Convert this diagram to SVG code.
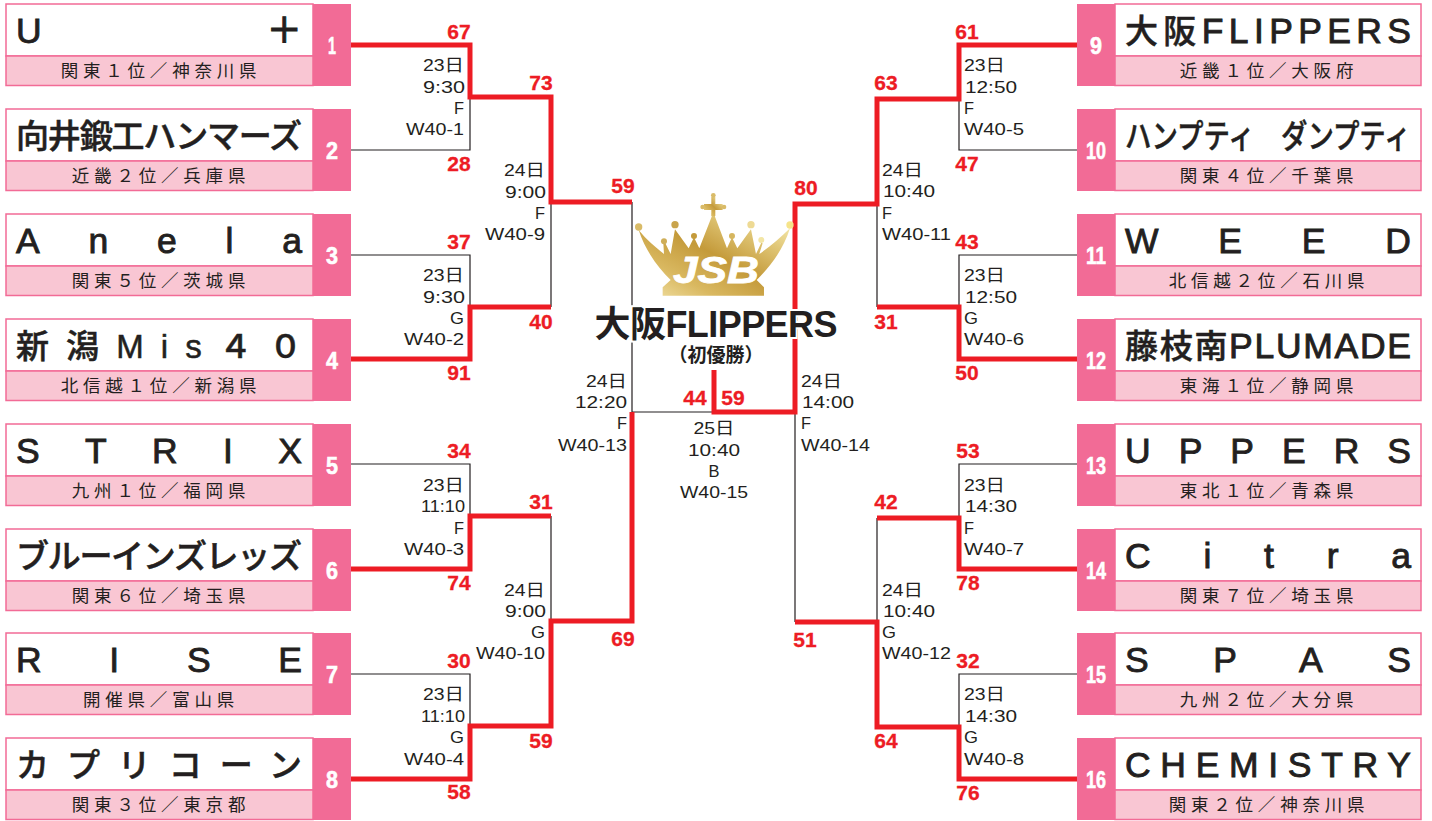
<svg xmlns="http://www.w3.org/2000/svg" width="1432" height="821" viewBox="0 0 1432 821">
<style>
text{font-family:"Liberation Sans","Noto Sans CJK JP",sans-serif}
.w{fill:#fff;stroke:#f26b96;stroke-width:1.5}
.p{fill:#f9c6d3;stroke:#f26b96;stroke-width:1.5}
.b{fill:#f26b96}
.nm{font-size:33px;fill:#231f20;stroke:#231f20;stroke-width:.5;font-weight:500}
.la{font-size:35.500px;stroke-width:.9}
.sb{font-size:17.500px;fill:#231f20;text-anchor:middle;letter-spacing:4.800px}
.no{font-size:24px;font-weight:700;fill:#fff;text-anchor:middle;stroke:#fff;stroke-width:.6}
.sc{font-size:21px;font-weight:700;fill:#ed1c24;text-anchor:middle;stroke:#ed1c24;stroke-width:.3}
.in{font-size:17px;fill:#231f20}
.r{text-anchor:end}
.k{fill:none;stroke:#231f20;stroke-width:1.2}
.t{fill:none;stroke:#ed1c24;stroke-width:5;stroke-linejoin:miter}
</style>
<defs>
<linearGradient id="gold" x1="0" y1="1" x2="1" y2="0">
<stop offset="0" stop-color="#f3e3a8"/><stop offset=".25" stop-color="#d9b860"/><stop offset=".5" stop-color="#c49a3a"/><stop offset=".75" stop-color="#e0c676"/><stop offset="1" stop-color="#fdf6c0"/>
</linearGradient>
</defs>
<g id="connectors">
<path class="k" d="M351 150H470V97M351 255H470V307M351 464H470V516M351 674H470V726M551 202V307M551 516V621M632 202V412H714"/>
<path class="k" d="M1077 150H959V98M1077 255H959V307M1077 464H959V518M1077 674H959V727M877 204V307M877 518V622M795 412V622"/>
<path class="t" d="M351 45H470V97H551V202H632"/>
<path class="t" d="M351 359H470V307H551"/>
<path class="t" d="M351 569H470V516H551"/>
<path class="t" d="M351 779H470V726H551V621H632V412"/>
<path class="t" d="M1077 45H959V99H877V204H795V412H714V370"/>
<path class="t" d="M1077 359H959V307H877"/>
<path class="t" d="M1077 569H959V518H877"/>
<path class="t" d="M1077 779H959V727H877V622H795"/>
</g>
<g id="team-1"><rect class="w" x="6" y="4" width="307" height="52"/><rect class="p" x="6" y="56" width="307" height="29.500"/><rect class="b" x="313" y="4" width="38" height="82"/><text class="nm la" x="16" y="43" textLength="286">U＋</text><text class="sb" x="161" y="77">関東１位／神奈川県</text><text class="no" x="332" y="53.500" textLength="8" lengthAdjust="spacingAndGlyphs">1</text></g>
<g id="team-2"><rect class="w" x="6" y="109" width="307" height="52"/><rect class="p" x="6" y="161" width="307" height="29.500"/><rect class="b" x="313" y="109" width="38" height="82"/><text class="nm" x="16" y="148" textLength="286">向井鍛工ハンマーズ</text><text class="sb" x="161" y="182">近畿２位／兵庫県</text><text class="no" x="332" y="158.500" textLength="12" lengthAdjust="spacingAndGlyphs">2</text></g>
<g id="team-3"><rect class="w" x="6" y="214" width="307" height="52"/><rect class="p" x="6" y="266" width="307" height="29.500"/><rect class="b" x="313" y="214" width="38" height="82"/><text class="nm la" x="16" y="253" textLength="286">Anela</text><text class="sb" x="161" y="287">関東５位／茨城県</text><text class="no" x="332" y="263.500" textLength="12" lengthAdjust="spacingAndGlyphs">3</text></g>
<g id="team-4"><rect class="w" x="6" y="319" width="307" height="52"/><rect class="p" x="6" y="371" width="307" height="29.500"/><rect class="b" x="313" y="319" width="38" height="82"/><text class="nm" x="16" y="358" textLength="286">新潟Mis４０</text><text class="sb" x="161" y="392">北信越１位／新潟県</text><text class="no" x="332" y="368.500" textLength="12" lengthAdjust="spacingAndGlyphs">4</text></g>
<g id="team-5"><rect class="w" x="6" y="424" width="307" height="52"/><rect class="p" x="6" y="476" width="307" height="29.500"/><rect class="b" x="313" y="424" width="38" height="82"/><text class="nm la" x="16" y="463" textLength="286">STRIX</text><text class="sb" x="161" y="497">九州１位／福岡県</text><text class="no" x="332" y="473.500" textLength="12" lengthAdjust="spacingAndGlyphs">5</text></g>
<g id="team-6"><rect class="w" x="6" y="529" width="307" height="52"/><rect class="p" x="6" y="581" width="307" height="29.500"/><rect class="b" x="313" y="529" width="38" height="82"/><text class="nm" x="16" y="568" textLength="286">ブルーインズレッズ</text><text class="sb" x="161" y="602">関東６位／埼玉県</text><text class="no" x="332" y="578.500" textLength="12" lengthAdjust="spacingAndGlyphs">6</text></g>
<g id="team-7"><rect class="w" x="6" y="633" width="307" height="52"/><rect class="p" x="6" y="685" width="307" height="29.500"/><rect class="b" x="313" y="633" width="38" height="82"/><text class="nm la" x="16" y="672" textLength="286">RISE</text><text class="sb" x="161" y="706">開催県／富山県</text><text class="no" x="332" y="682.500" textLength="12" lengthAdjust="spacingAndGlyphs">7</text></g>
<g id="team-8"><rect class="w" x="6" y="738" width="307" height="52"/><rect class="p" x="6" y="790" width="307" height="29.500"/><rect class="b" x="313" y="738" width="38" height="82"/><text class="nm" x="16" y="777" textLength="286">カプリコーン</text><text class="sb" x="161" y="811">関東３位／東京都</text><text class="no" x="332" y="787.500" textLength="12" lengthAdjust="spacingAndGlyphs">8</text></g>
<g id="team-9"><rect class="w" x="1115" y="4" width="306" height="52"/><rect class="p" x="1115" y="56" width="306" height="29.500"/><rect class="b" x="1077" y="4" width="38" height="82"/><text class="nm" x="1125" y="43" textLength="286">大阪<tspan class="la">FLIPPERS</tspan></text><text class="sb" x="1269" y="77">近畿１位／大阪府</text><text class="no" x="1096" y="53.500" textLength="12" lengthAdjust="spacingAndGlyphs">9</text></g>
<g id="team-10"><rect class="w" x="1115" y="109" width="306" height="52"/><rect class="p" x="1115" y="161" width="306" height="29.500"/><rect class="b" x="1077" y="109" width="38" height="82"/><text class="nm" transform="translate(1125 148) scale(.8 1)">ハンプティ　ダンプティ</text><text class="sb" x="1269" y="182">関東４位／千葉県</text><text class="no" x="1096" y="158.500" textLength="20" lengthAdjust="spacingAndGlyphs">10</text></g>
<g id="team-11"><rect class="w" x="1115" y="214" width="306" height="52"/><rect class="p" x="1115" y="266" width="306" height="29.500"/><rect class="b" x="1077" y="214" width="38" height="82"/><text class="nm la" x="1125" y="253" textLength="286">WEED</text><text class="sb" x="1269" y="287">北信越２位／石川県</text><text class="no" x="1096" y="263.500" textLength="20" lengthAdjust="spacingAndGlyphs">11</text></g>
<g id="team-12"><rect class="w" x="1115" y="319" width="306" height="52"/><rect class="p" x="1115" y="371" width="306" height="29.500"/><rect class="b" x="1077" y="319" width="38" height="82"/><text class="nm" x="1125" y="358" textLength="286">藤枝南<tspan class="la">PLUMADE</tspan></text><text class="sb" x="1269" y="392">東海１位／静岡県</text><text class="no" x="1096" y="368.500" textLength="20" lengthAdjust="spacingAndGlyphs">12</text></g>
<g id="team-13"><rect class="w" x="1115" y="424" width="306" height="52"/><rect class="p" x="1115" y="476" width="306" height="29.500"/><rect class="b" x="1077" y="424" width="38" height="82"/><text class="nm la" x="1125" y="463" textLength="286">UPPERS</text><text class="sb" x="1269" y="497">東北１位／青森県</text><text class="no" x="1096" y="473.500" textLength="20" lengthAdjust="spacingAndGlyphs">13</text></g>
<g id="team-14"><rect class="w" x="1115" y="529" width="306" height="52"/><rect class="p" x="1115" y="581" width="306" height="29.500"/><rect class="b" x="1077" y="529" width="38" height="82"/><text class="nm la" x="1125" y="568" textLength="286">Citra</text><text class="sb" x="1269" y="602">関東７位／埼玉県</text><text class="no" x="1096" y="578.500" textLength="20" lengthAdjust="spacingAndGlyphs">14</text></g>
<g id="team-15"><rect class="w" x="1115" y="633" width="306" height="52"/><rect class="p" x="1115" y="685" width="306" height="29.500"/><rect class="b" x="1077" y="633" width="38" height="82"/><text class="nm la" x="1125" y="672" textLength="286">SPAS</text><text class="sb" x="1269" y="706">九州２位／大分県</text><text class="no" x="1096" y="682.500" textLength="20" lengthAdjust="spacingAndGlyphs">15</text></g>
<g id="team-16"><rect class="w" x="1115" y="738" width="306" height="52"/><rect class="p" x="1115" y="790" width="306" height="29.500"/><rect class="b" x="1077" y="738" width="38" height="82"/><text class="nm la" x="1125" y="777" textLength="286">CHEMISTRY</text><text class="sb" x="1269" y="811">関東２位／神奈川県</text><text class="no" x="1096" y="787.500" textLength="20" lengthAdjust="spacingAndGlyphs">16</text></g>
<g id="scores">
<text class="sc" x="459" y="39">67</text><text class="sc" x="459" y="171">28</text><text class="sc" x="459" y="249">37</text><text class="sc" x="459" y="380">91</text><text class="sc" x="459" y="458">34</text><text class="sc" x="459" y="590">74</text><text class="sc" x="459" y="668">30</text><text class="sc" x="459" y="799">58</text>
<text class="sc" x="541" y="90">73</text><text class="sc" x="541" y="329">40</text><text class="sc" x="541" y="509">31</text><text class="sc" x="541" y="748">59</text>
<text class="sc" x="623" y="193">59</text><text class="sc" x="623" y="646">69</text>
<text class="sc" x="695" y="405">44</text><text class="sc" x="733" y="405">59</text>
<text class="sc" x="806" y="195">80</text><text class="sc" x="805" y="647">51</text>
<text class="sc" x="886" y="90">63</text><text class="sc" x="886" y="329">31</text><text class="sc" x="886" y="509">42</text><text class="sc" x="886" y="748">64</text>
<text class="sc" x="967" y="39">61</text><text class="sc" x="967" y="171">47</text><text class="sc" x="967" y="249">43</text><text class="sc" x="967" y="380">50</text><text class="sc" x="968" y="458">53</text><text class="sc" x="968" y="590">78</text><text class="sc" x="968" y="668">32</text><text class="sc" x="968" y="800">76</text>
</g>
<g id="match-info">
<g class="in r"><text x="464" y="71" textLength="41" lengthAdjust="spacingAndGlyphs">23日</text><text x="465" y="93" textLength="42" lengthAdjust="spacingAndGlyphs">9:30</text><text x="464" y="114" textLength="10" lengthAdjust="spacingAndGlyphs">F</text><text x="464" y="135" textLength="58" lengthAdjust="spacingAndGlyphs">W40-1</text></g>
<g class="in r"><text x="464" y="281" textLength="41" lengthAdjust="spacingAndGlyphs">23日</text><text x="465" y="303" textLength="42" lengthAdjust="spacingAndGlyphs">9:30</text><text x="464" y="324" textLength="14" lengthAdjust="spacingAndGlyphs">G</text><text x="464" y="345" textLength="60" lengthAdjust="spacingAndGlyphs">W40-2</text></g>
<g class="in r"><text x="464" y="491" textLength="41" lengthAdjust="spacingAndGlyphs">23日</text><text x="465" y="512" textLength="44" lengthAdjust="spacingAndGlyphs">11:10</text><text x="464" y="534" textLength="10" lengthAdjust="spacingAndGlyphs">F</text><text x="464" y="555" textLength="60" lengthAdjust="spacingAndGlyphs">W40-3</text></g>
<g class="in r"><text x="464" y="700" textLength="41" lengthAdjust="spacingAndGlyphs">23日</text><text x="465" y="722" textLength="44" lengthAdjust="spacingAndGlyphs">11:10</text><text x="464" y="743" textLength="14" lengthAdjust="spacingAndGlyphs">G</text><text x="464" y="765" textLength="60" lengthAdjust="spacingAndGlyphs">W40-4</text></g>
<g class="in r"><text x="545" y="176" textLength="41" lengthAdjust="spacingAndGlyphs">24日</text><text x="546" y="198" textLength="41" lengthAdjust="spacingAndGlyphs">9:00</text><text x="545" y="219" textLength="10" lengthAdjust="spacingAndGlyphs">F</text><text x="545" y="240" textLength="60" lengthAdjust="spacingAndGlyphs">W40-9</text></g>
<g class="in r"><text x="545" y="596" textLength="41" lengthAdjust="spacingAndGlyphs">24日</text><text x="546" y="617" textLength="41" lengthAdjust="spacingAndGlyphs">9:00</text><text x="545" y="638" textLength="14" lengthAdjust="spacingAndGlyphs">G</text><text x="545" y="659" textLength="69" lengthAdjust="spacingAndGlyphs">W40-10</text></g>
<g class="in r"><text x="627" y="387" textLength="41" lengthAdjust="spacingAndGlyphs">24日</text><text x="627" y="408" textLength="52" lengthAdjust="spacingAndGlyphs">12:20</text><text x="627" y="429" textLength="10" lengthAdjust="spacingAndGlyphs">F</text><text x="627" y="451" textLength="69" lengthAdjust="spacingAndGlyphs">W40-13</text></g>
<g class="in"><text x="714" y="434" textLength="41" lengthAdjust="spacingAndGlyphs" text-anchor="middle">25日</text><text x="714" y="456" textLength="52" lengthAdjust="spacingAndGlyphs" text-anchor="middle">10:40</text><text x="714" y="477" textLength="11" lengthAdjust="spacingAndGlyphs" text-anchor="middle">B</text><text x="714" y="498" textLength="68" lengthAdjust="spacingAndGlyphs" text-anchor="middle">W40-15</text></g>
<g class="in"><text x="801" y="387" textLength="41" lengthAdjust="spacingAndGlyphs">24日</text><text x="802" y="408" textLength="52" lengthAdjust="spacingAndGlyphs">14:00</text><text x="801" y="429" textLength="10" lengthAdjust="spacingAndGlyphs">F</text><text x="801" y="451" textLength="69" lengthAdjust="spacingAndGlyphs">W40-14</text></g>
<g class="in"><text x="882" y="176" textLength="41" lengthAdjust="spacingAndGlyphs">24日</text><text x="883" y="197" textLength="52" lengthAdjust="spacingAndGlyphs">10:40</text><text x="882" y="219" textLength="10" lengthAdjust="spacingAndGlyphs">F</text><text x="882" y="240" textLength="69" lengthAdjust="spacingAndGlyphs">W40-11</text></g>
<g class="in"><text x="882" y="596" textLength="41" lengthAdjust="spacingAndGlyphs">24日</text><text x="883" y="617" textLength="52" lengthAdjust="spacingAndGlyphs">10:40</text><text x="882" y="638" textLength="14" lengthAdjust="spacingAndGlyphs">G</text><text x="882" y="659" textLength="69" lengthAdjust="spacingAndGlyphs">W40-12</text></g>
<g class="in"><text x="964" y="71" textLength="41" lengthAdjust="spacingAndGlyphs">23日</text><text x="965" y="93" textLength="52" lengthAdjust="spacingAndGlyphs">12:50</text><text x="964" y="114" textLength="10" lengthAdjust="spacingAndGlyphs">F</text><text x="964" y="135" textLength="60" lengthAdjust="spacingAndGlyphs">W40-5</text></g>
<g class="in"><text x="964" y="281" textLength="41" lengthAdjust="spacingAndGlyphs">23日</text><text x="965" y="303" textLength="52" lengthAdjust="spacingAndGlyphs">12:50</text><text x="964" y="324" textLength="14" lengthAdjust="spacingAndGlyphs">G</text><text x="964" y="345" textLength="60" lengthAdjust="spacingAndGlyphs">W40-6</text></g>
<g class="in"><text x="964" y="491" textLength="41" lengthAdjust="spacingAndGlyphs">23日</text><text x="965" y="512" textLength="52" lengthAdjust="spacingAndGlyphs">14:30</text><text x="964" y="534" textLength="10" lengthAdjust="spacingAndGlyphs">F</text><text x="964" y="555" textLength="60" lengthAdjust="spacingAndGlyphs">W40-7</text></g>
<g class="in"><text x="964" y="700" textLength="41" lengthAdjust="spacingAndGlyphs">23日</text><text x="965" y="722" textLength="52" lengthAdjust="spacingAndGlyphs">14:30</text><text x="964" y="743" textLength="14" lengthAdjust="spacingAndGlyphs">G</text><text x="964" y="765" textLength="60" lengthAdjust="spacingAndGlyphs">W40-8</text></g>
</g>
<g id="crown" transform="translate(580 180) scale(.3333)">
<path fill="url(#gold)" d="M176 150C200 180 225 200 252 222L250 190H256L272 222L285 148L326 205L342 172L358 205L395 110V100H405V110L441 205L456 172L472 205L513 148L528 222L544 188L548 190L538 222C570 200 600 175 630 145C610 210 570 260 530 300L552 322V347H248V322L272 300C235 265 195 210 176 150Z"/>
<path fill="url(#gold)" d="M394 108V90H372V72H394V50H406V72H428V90H406V108Z"/>
<circle cx="400" cy="46" r="7" fill="#d9bb68"/><circle cx="368" cy="81" r="7" fill="#d9bb68"/><circle cx="432" cy="81" r="7" fill="#d9bb68"/>
<circle cx="176" cy="141" r="11" fill="#d9bb68"/><circle cx="285" cy="134" r="11" fill="#c9a44c"/><circle cx="513" cy="134" r="11" fill="#eeda94"/><circle cx="630" cy="135" r="11" fill="#f6e48a"/><circle cx="252" cy="184" r="9" fill="#cfae58"/><circle cx="342" cy="168" r="9" fill="#c49a3a"/><circle cx="456" cy="168" r="9" fill="#d6b65f"/><circle cx="544" cy="180" r="9" fill="#f3e6a5"/>
</g>
<text id="crown-label" x="716" y="283" font-size="36" font-weight="700" font-style="italic" fill="#fff" stroke="#fff" stroke-width=".8" text-anchor="middle" textLength="86" lengthAdjust="spacingAndGlyphs">JSB</text>
<g id="champion">
<text x="716" y="337" font-size="36" font-weight="700" fill="#231f20" stroke="#fff" stroke-width="4" paint-order="stroke" text-anchor="middle" textLength="243">大阪FLIPPERS</text>
<text x="716" y="362" font-size="19" font-weight="700" fill="#231f20" text-anchor="middle">（初優勝）</text>
</g>
</svg>
